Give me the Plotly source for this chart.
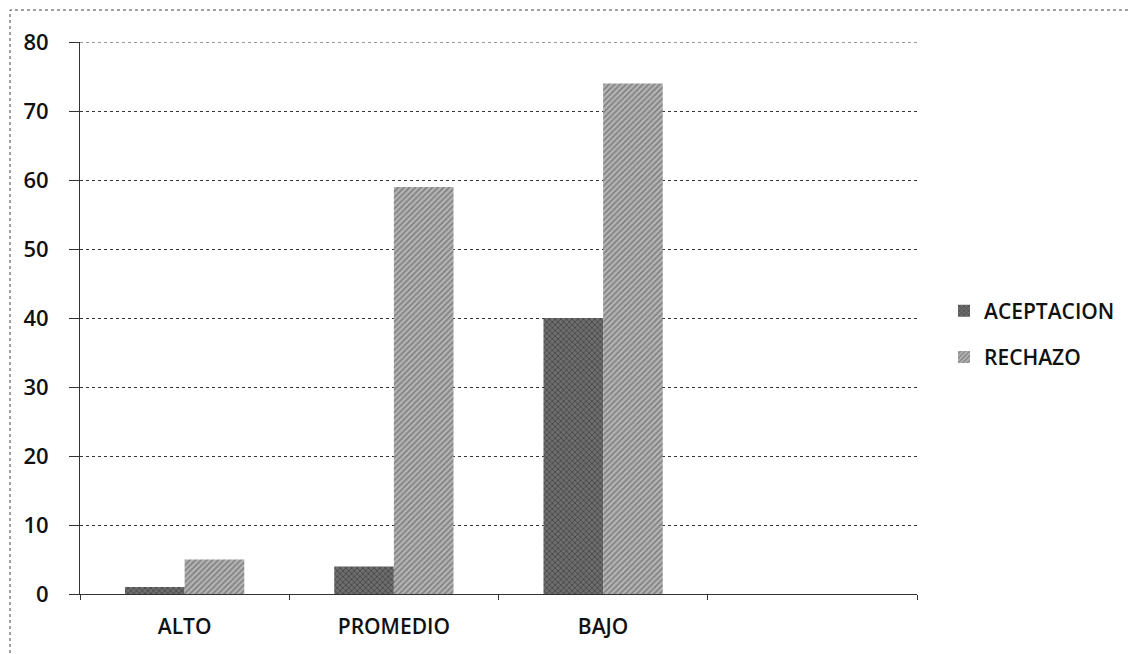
import plotly.graph_objects as go

categories = ["ALTO", "PROMEDIO", "BAJO", " "]
aceptacion = [1, 4, 40, None]
rechazo = [5, 59, 74, None]
series_names = ["ACEPTACION", "RECHAZO"]
y_ticks = [0, 10, 20, 30, 40, 50, 60, 70, 80]

OFF = 8  # page body margin
W, H = 1137 - OFF, 654 - OFF
# screen-coordinate plot box: x 80..917, y 42..594
L, T = 80 - OFF, 42 - OFF
pw, ph = 837, 552
R = W - L - pw
B = H - T - ph

def px_x(p):
    return (p - OFF - L) / pw

def px_y(p):
    return (T + ph - (p - OFF)) / ph

FONT = "Open Sans, Lato, sans-serif"

fig = go.Figure()
fig.add_trace(go.Bar(
    x=categories, y=aceptacion, name=series_names[0], legendgroup="a",
    marker=dict(color="#505050", line=dict(width=0),
                pattern=dict(shape="x", fgcolor="#222222", bgcolor="#6e6e6e", size=4, solidity=0.4)),
))
fig.add_trace(go.Bar(
    x=categories, y=rechazo, name=series_names[1], legendgroup="b",
    marker=dict(color="#8a8a8a", line=dict(width=0),
                pattern=dict(shape="/", fgcolor="#4a4a4a", bgcolor="#b4b4b4", size=4, solidity=0.4)),
))

fig.update_layout(
    width=W, height=H,
    margin=dict(l=L, r=R, t=T, b=B),
    paper_bgcolor="white", plot_bgcolor="white",
    barmode="group", bargap=0.43, bargroupgap=0,
    font=dict(family=FONT, color="#111"),
    legend=dict(x=px_x(944), y=px_y(334), yanchor="middle", xanchor="left",
                font=dict(size=21, weight=600), itemwidth=30, tracegroupgap=16,
                traceorder="grouped", bgcolor="rgba(0,0,0,0)"),
    showlegend=True,
)
fig.update_xaxes(
    type="category", categoryorder="array", categoryarray=categories,
    range=[-0.5, 3.5],
    tickson="boundaries", ticks="outside", ticklen=5, tickcolor="#333",
    showline=True, linecolor="#333", linewidth=1,
    showgrid=False, tickfont=dict(size=21, weight=600), ticklabelstandoff=14,
)
fig.update_yaxes(
    range=[0, 80], tickvals=y_ticks,
    showline=True, linecolor="#333", linewidth=1,
    showgrid=True, gridcolor="#333", griddash="dot", gridwidth=1,
    ticks="outside", ticklen=10, tickcolor="#333",
    tickfont=dict(size=22, weight=600), ticklabelstandoff=16, zeroline=False,
)

# top gridline (value 80), which Plotly omits at the edge of the range
fig.add_shape(type="line", xref="paper", yref="y", x0=0, x1=1, y0=y_ticks[-1], y1=y_ticks[-1],
              line=dict(color="#333", width=1, dash="dot"))

fig.add_shape(type="rect", xref="paper", yref="paper",
              x0=px_x(10), x1=px_x(1135), y0=px_y(660), y1=px_y(10),
              line=dict(color="#444", width=1, dash="dot"), layer="below")

fig.write_html("out.html")
